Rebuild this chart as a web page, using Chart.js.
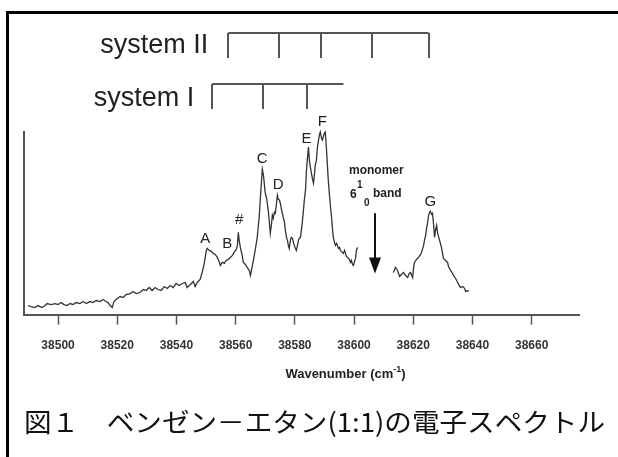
<!DOCTYPE html>
<html>
<head>
<meta charset="utf-8">
<script src="https://cdn.jsdelivr.net/npm/chart.js@4/dist/chart.umd.min.js"></script>
<style>
  html, body { margin: 0; padding: 0; background: #fff; overflow: hidden; }
  canvas { display: block; }
</style>
</head>
<body>
<canvas id="spec" width="618" height="457"></canvas>
<script>
// spectrum, part before the monomer band (wavenumber, intensity a.u.)
const wn1 = [38489.9, 38490.9, 38492.2, 38493.2, 38494.6, 38495.6, 38496.3, 38497.6, 38499.0, 38500.0,
  38501.0, 38502.0, 38503.0, 38504.1, 38505.1, 38506.1, 38507.4, 38508.5, 38509.5, 38510.8,
  38511.8, 38512.9, 38514.2, 38515.2, 38516.2, 38516.9, 38517.6, 38518.3, 38518.9, 38520.0,
  38521.0, 38522.0, 38523.0, 38524.4, 38525.4, 38526.4, 38527.7, 38528.8, 38529.8, 38530.8,
  38531.8, 38532.8, 38533.8, 38534.8, 38535.9, 38536.9, 38537.9, 38538.9, 38539.9, 38540.9,
  38542.0, 38543.0, 38543.6, 38544.7, 38545.7, 38546.3, 38547.0, 38548.0, 38548.7, 38549.4,
  38550.1, 38550.4, 38551.1, 38551.8, 38552.4, 38553.1, 38553.8, 38554.5, 38554.8, 38555.5,
  38556.2, 38556.8, 38557.5, 38558.2, 38558.9, 38559.5, 38560.2, 38560.6, 38560.9, 38561.2,
  38561.6, 38562.2, 38562.6, 38563.3, 38563.9, 38564.6, 38565.0, 38565.6, 38566.0, 38566.6,
  38567.3, 38568.0, 38568.3, 38568.7, 38569.0, 38569.4, 38569.7, 38570.0, 38570.4, 38570.7,
  38571.0, 38571.4, 38571.7, 38572.1, 38572.4, 38572.7, 38573.1, 38573.4, 38573.7, 38574.1,
  38574.4, 38574.8, 38575.1, 38575.4, 38576.1, 38576.5, 38576.8, 38577.1, 38577.5, 38577.8,
  38578.1, 38578.5, 38578.8, 38579.2, 38579.5, 38579.8, 38580.2, 38580.5, 38580.9, 38581.2,
  38581.5, 38581.9, 38582.2, 38582.5, 38582.9, 38583.2, 38583.6, 38583.9, 38584.2, 38584.6,
  38584.9, 38585.3, 38585.6, 38585.9, 38586.3, 38586.6, 38586.9, 38587.3, 38587.6, 38588.0,
  38588.3, 38588.6, 38589.0, 38589.3, 38589.7, 38590.0, 38590.3, 38590.7, 38591.0, 38591.3,
  38591.7, 38592.0, 38592.4, 38592.7, 38593.0, 38593.4, 38593.7, 38594.1, 38594.4, 38594.7,
  38595.1, 38595.4, 38595.7, 38596.4, 38596.8, 38597.4, 38597.8, 38598.4, 38598.8, 38599.1,
  38599.5, 38599.8, 38600.1, 38600.5, 38600.8, 38601.2];
const int1 = [9, 8, 7, 9, 7, 9, 11, 10, 11, 10,
  12, 10, 9, 11, 10, 12, 11, 13, 11, 13,
  12, 14, 13, 15, 13, 12, 9, 7, 13, 16,
  18, 17, 20, 21, 23, 21, 22, 25, 24, 27,
  24, 27, 25, 24, 28, 26, 29, 27, 31, 29,
  31, 32, 27, 30, 33, 28, 32, 35, 42, 51,
  64, 66, 64, 63, 61, 60, 57, 52, 49, 52,
  51, 54, 55, 57, 59, 62, 65, 69, 82, 74,
  67, 59, 52, 50, 47, 44, 39, 48, 54, 64,
  77, 99, 114, 131, 145, 139, 130, 121, 117, 111,
  104, 92, 81, 90, 99, 96, 102, 101, 108, 119,
  115, 114, 111, 106, 97, 92, 84, 78, 74, 69,
  66, 74, 77, 76, 72, 69, 66, 64, 69, 74,
  76, 77, 84, 91, 104, 114, 124, 142, 154, 167,
  154, 146, 141, 136, 131, 139, 149, 154, 166, 174,
  179, 182, 176, 174, 178, 181, 182, 164, 149, 134,
  119, 109, 97, 86, 77, 72, 69, 71, 69, 66,
  67, 64, 63, 61, 64, 58, 57, 55, 52, 54,
  50, 49, 52, 56, 64, 67];

// spectrum, part after the monomer band
const wn2 = [38613.3, 38614.0, 38614.7, 38615.4, 38616.0, 38616.7, 38617.4, 38618.1, 38618.7, 38619.1,
  38619.8, 38620.1, 38620.4, 38621.1, 38621.8, 38622.5, 38622.8, 38623.5, 38623.8, 38624.2,
  38624.5, 38624.8, 38625.2, 38625.5, 38625.8, 38626.2, 38626.5, 38626.9, 38627.2, 38627.5,
  38627.9, 38628.2, 38628.6, 38629.2, 38629.6, 38630.2, 38630.9, 38631.6, 38631.9, 38632.6,
  38633.3, 38633.6, 38634.3, 38635.0, 38635.7, 38636.0, 38636.7, 38637.4, 38637.7, 38638.4,
  38638.7];
const int2 = [42, 47, 44, 38, 40, 42, 39, 37, 41, 42,
  37, 46, 52, 55, 57, 60, 62, 69, 74, 79,
  86, 91, 99, 102, 103, 100, 101, 89, 77, 84,
  89, 82, 77, 71, 66, 56, 54, 52, 48, 44,
  41, 39, 36, 32, 28, 27, 28, 26, 23, 24,
  23];

const tickValues = [38500, 38520, 38540, 38560, 38580, 38600, 38620, 38640, 38660];
const xMin = 38488.5, xMax = 38676;

// progression combs
const system1 = [38552.1, 38569.4, 38584.2];
const system1End = 38596.4;
const system2 = [38557.5, 38574.8, 38589.0, 38605.9, 38625.2];

// peak letters
const peakNames = ['A', 'B', '#', 'C', 'D', 'E', 'F', 'G'];
const peakX = [38549.7, 38557.2, 38561.2, 38569.0, 38574.4, 38583.9, 38589.3, 38625.8];
const peakY = [77, 72, 96, 157, 131, 177, 193, 114];

// monomer 6^1_0 band marker
const monomerX = 38607.2;
const arrowTop = 101, arrowTip = 41;

const sans = '"Liberation Sans", Arial, sans-serif';

const decor = {
  id: 'decor',
  afterDraw(chart) {
    const ctx = chart.ctx;
    const xs = chart.scales.x, ys = chart.scales.y;
    ctx.save();

    // frame
    ctx.fillStyle = '#000';
    ctx.fillRect(6, 11, 3, 446);
    ctx.fillRect(6, 11, 612, 3);

    // combs
    ctx.strokeStyle = '#555';
    ctx.lineWidth = 2;
    const comb = (pos, end, yTop, len) => {
      ctx.beginPath();
      ctx.moveTo(xs.getPixelForValue(pos[0]), yTop);
      ctx.lineTo(xs.getPixelForValue(end), yTop);
      pos.forEach(p => {
        const px = Math.round(xs.getPixelForValue(p));
        ctx.moveTo(px, yTop);
        ctx.lineTo(px, yTop + len);
      });
      ctx.stroke();
    };
    comb(system2, system2[system2.length - 1], 33, 25);
    comb(system1, system1End, 84, 25);

    ctx.fillStyle = '#222';
    ctx.font = '27px ' + sans;
    ctx.textAlign = 'right';
    ctx.textBaseline = 'alphabetic';
    ctx.fillText('system II', xs.getPixelForValue(system2[0]) - 20, 53);
    ctx.fillText('system I', xs.getPixelForValue(system1[0]) - 18, 106);

    // peak letters
    ctx.font = '15px ' + sans;
    ctx.textAlign = 'center';
    peakNames.forEach((n, i) => {
      ctx.fillText(n, xs.getPixelForValue(peakX[i]), ys.getPixelForValue(peakY[i]) + 5.5);
    });

    // arrow
    const ax = Math.round(xs.getPixelForValue(monomerX));
    const at = ys.getPixelForValue(arrowTop), ab = ys.getPixelForValue(arrowTip);
    ctx.strokeStyle = '#111';
    ctx.lineWidth = 2;
    ctx.beginPath();
    ctx.moveTo(ax, at);
    ctx.lineTo(ax, ab - 14);
    ctx.stroke();
    ctx.fillStyle = '#111';
    ctx.beginPath();
    ctx.moveTo(ax - 6, ab - 16);
    ctx.lineTo(ax + 6, ab - 16);
    ctx.lineTo(ax, ab);
    ctx.closePath();
    ctx.fill();

    ctx.fillStyle = '#222';
    ctx.textAlign = 'left';
    ctx.font = 'bold 12px ' + sans;
    ctx.fillText('monomer', ax - 26, at - 39);
    ctx.fillText('6', ax - 25, at - 15);
    ctx.fillText('band', ax - 2, at - 16);
    ctx.font = 'bold 10px ' + sans;
    ctx.fillText('1', ax - 18, at - 25);
    ctx.fillText('0', ax - 11, at - 7);

    // axis title
    ctx.font = 'bold 13px ' + sans;
    const t1 = 'Wavenumber (cm', sup = '-1', t2 = ')';
    const w1 = ctx.measureText(t1).width, w3 = ctx.measureText(t2).width;
    ctx.font = 'bold 9px ' + sans;
    const w2 = ctx.measureText(sup).width;
    const cx = (chart.chartArea.left + chart.chartArea.right) / 2 + 44;
    let tx = cx - (w1 + w2 + w3) / 2;
    const ty = 378;
    ctx.font = 'bold 13px ' + sans;
    ctx.fillText(t1, tx, ty);
    ctx.font = 'bold 9px ' + sans;
    ctx.fillText(sup, tx + w1, ty - 6);
    ctx.font = 'bold 13px ' + sans;
    ctx.fillText(t2, tx + w1 + w2, ty);

    // caption
    const cap = '図１　ベンゼン－エタン(1:1)の電子スペクトル';
    ctx.font = '26px "Noto Sans CJK JP", sans-serif';
    ctx.fillStyle = '#111';
    const cw = ctx.measureText(cap).width;
    ctx.save();
    ctx.translate(24, 432);
    ctx.scale(581 / cw, 1);
    ctx.fillText(cap, 0, 0);
    ctx.restore();

    ctx.restore();
  }
};

new Chart(document.getElementById('spec'), {
  type: 'line',
  data: {
    datasets: [
      { data: wn1.map((w, i) => ({ x: w, y: int1[i] })) },
      { data: wn2.map((w, i) => ({ x: w, y: int2[i] })) }
    ].map(d => Object.assign(d, {
      borderColor: '#333', borderWidth: 1.3, pointRadius: 0, tension: 0, fill: false, clip: 6
    }))
  },
  options: {
    responsive: false,
    animation: false,
    events: [],
    layout: { padding: { top: 132, left: 24, right: 39, bottom: 90 } },
    plugins: { legend: { display: false }, tooltip: { enabled: false } },
    scales: {
      x: {
        type: 'linear', min: xMin, max: xMax,
        afterBuildTicks: s => { s.ticks = tickValues.map(v => ({ value: v })); },
        grid: { drawOnChartArea: false, tickLength: 10, tickColor: '#555', tickWidth: 1.5 },
        border: { color: '#555', width: 2 },
        ticks: {
          padding: 14, color: '#333', maxRotation: 0, autoSkip: false,
          font: { family: sans, size: 12, weight: 'bold' },
          callback: v => String(v)
        }
      },
      y: {
        min: 0, max: 182,
        ticks: { display: false },
        grid: { display: false, drawTicks: false },
        border: { color: '#555', width: 2 }
      }
    }
  },
  plugins: [decor]
});
</script>
</body>
</html>
